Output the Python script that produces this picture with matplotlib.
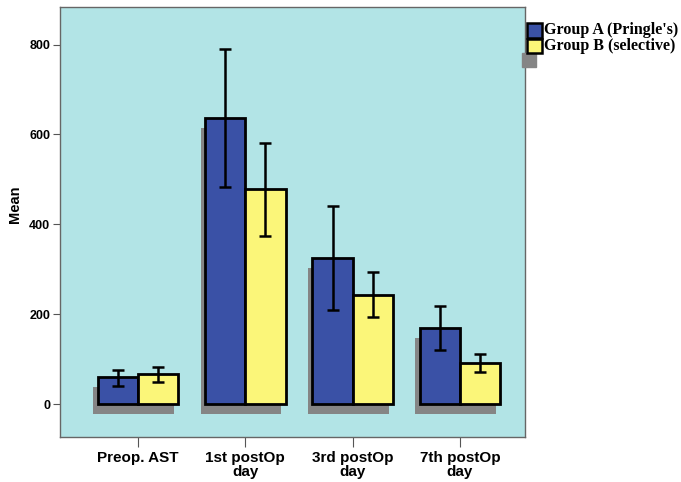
import numpy as np
import matplotlib
matplotlib.use("Agg")
import matplotlib.pyplot as plt
from matplotlib.patches import Rectangle

cats = ["Preop. AST", "1st postOp\nday", "3rd postOp\nday", "7th postOp\nday"]
grp_names = ["Group A (Pringle's)", "Group B (selective)"]
mean_a = [60, 636, 326, 170]
lo_a = [41, 483, 210, 120]
hi_a = [76, 789, 440, 219]
mean_b = [68, 478, 244, 91]
lo_b = [49, 374, 195, 71]
hi_b = [83, 581, 295, 111]

c_a = "#3a51a6"
c_b = "#fbf679"
c_bg = "#b2e4e6"
c_sh = "#858585"

fig = plt.figure(figsize=(6.81, 4.82), dpi=100)
ax = fig.add_axes([0.088, 0.093, 0.683, 0.893])
ax.set_facecolor(c_bg)

x = np.arange(len(cats))
w = 0.375
dx, dy = 0.04, 22  # shadow offset

for xs, m, lo, hi, col in [(x - w / 2, mean_a, lo_a, hi_a, c_a),
                           (x + w / 2, mean_b, lo_b, hi_b, c_b)]:
    m = np.array(m)
    ax.bar(xs - dx, m, w, bottom=-dy, color=c_sh, zorder=1)
    ax.bar(xs, m, w, color=col, edgecolor="black", linewidth=2, zorder=2)
    err = [m - np.array(lo), np.array(hi) - m]
    ax.errorbar(xs, m, yerr=err, fmt="none", ecolor="black",
                elinewidth=1.8, capsize=4, capthick=1.8, zorder=3)

ax.set_xlim(-0.727, 3.606)
ax.set_ylim(-73, 884)
ax.set_yticks([0, 200, 400, 600, 800])
ax.set_xticks(x)
ax.set_xticklabels(cats, fontsize=11, fontweight="bold", family="Liberation Sans",
                   linespacing=0.95)
for t in ax.get_yticklabels():
    t.set_fontsize(9)
    t.set_fontweight("bold")
    t.set_family("Liberation Sans")
ax.tick_params(axis="y", length=5, color="#555555", pad=2)
ax.tick_params(axis="x", length=7, color="#555555", pad=3)
for s in ax.spines.values():
    s.set_color("#666666")
    s.set_linewidth(1)

ax.set_ylabel("Mean", fontsize=10.5, fontweight="bold", family="Liberation Sans")
ax.yaxis.set_label_coords(-0.082, 0.54)

# legend drawn by hand, SPSS style
fig.patches.append(Rectangle((522 / 681, 1 - 67 / 482), 14 / 681, 14 / 482,
                             transform=fig.transFigure, color=c_sh, zorder=1))
for i, (nm, col) in enumerate(zip(grp_names, [c_a, c_b])):
    y0 = 1 - (37.5 + i * 15) / 482
    fig.patches.append(Rectangle((527 / 681, y0), 15 / 681, 14 / 482,
                                 transform=fig.transFigure, facecolor=col,
                                 edgecolor="black", linewidth=1.8, zorder=2))
    fig.text(544 / 681, y0 + 7 / 482, nm, fontsize=11.5, fontweight="bold",
             family="Liberation Serif", va="center", ha="left")

fig.savefig("out.png", dpi=100)
